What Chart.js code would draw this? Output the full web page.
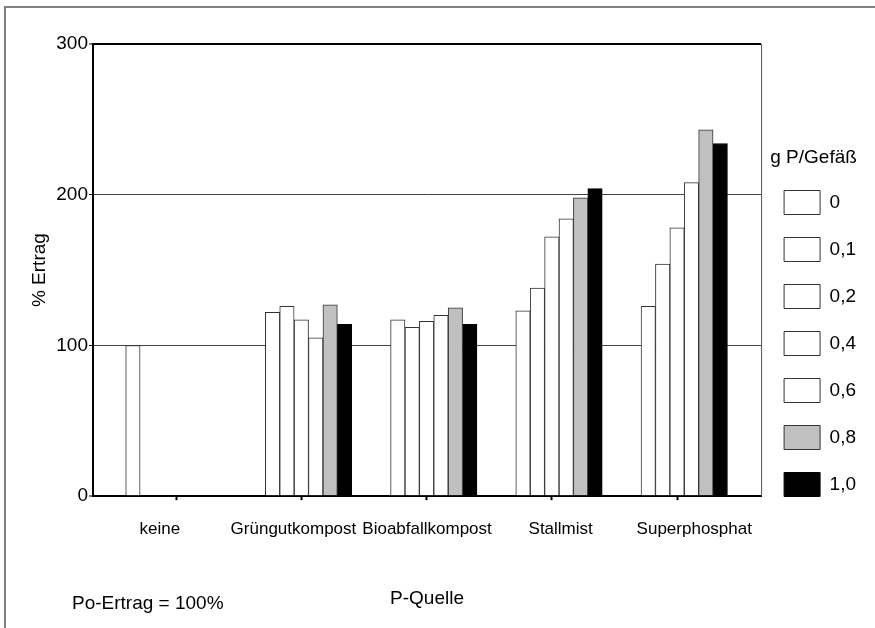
<!DOCTYPE html>
<html lang="de">
<head>
<meta charset="utf-8">
<title>% Ertrag nach P-Quelle</title>
<script src="https://cdn.jsdelivr.net/npm/chart.js@4.4.1/dist/chart.umd.min.js"></script>
<style>
  html, body { margin: 0; padding: 0; background: #fff; }
  #wrap { width: 875px; height: 628px; }
</style>
</head>
<body>
<div id="wrap"><canvas id="chartErtrag" width="875" height="628"></canvas></div>
<script>
// P-Quellen und Dosisstufen
const categories = ['keine', 'Grüngutkompost', 'Bioabfallkompost', 'Stallmist', 'Superphosphat'];
const doseLabels = ['0', '0,1', '0,2', '0,4', '0,6', '0,8', '1,0'];
const yTicks = [0, 100, 200, 300];

// % Ertrag je Dosis (g P/Gefäß)
const ertrag00 = [100, null, null, null, null];
const ertrag01 = [null, 122, 117, 123, 126];
const ertrag02 = [null, 126, 112, 138, 154];
const ertrag04 = [null, 117, 116, 172, 178];
const ertrag06 = [null, 105, 120, 184, 208];
const ertrag08 = [null, 127, 125, 198, 243];
const ertrag10 = [null, 114, 114, 204, 234];
const ertragSeries = [ertrag00, ertrag01, ertrag02, ertrag04, ertrag06, ertrag08, ertrag10];

const fillColors = ['#ffffff', '#ffffff', '#ffffff', '#ffffff', '#ffffff', '#c0c0c0', '#000000'];
const lineColors = ['#333333', '#333333', '#333333', '#333333', '#333333', '#333333', '#000000'];

const FONT = '"Liberation Sans", Arial, sans-serif';
Chart.defaults.font.family = FONT;
Chart.defaults.color = '#000';

// Rahmen, rechte Kante der Zeichenfläche und Fußnote
const rahmenPlugin = {
  id: 'rahmen',
  afterDraw(chart) {
    const { ctx, chartArea } = chart;
    ctx.save();
    ctx.strokeStyle = '#555';
    ctx.lineWidth = 1;
    ctx.beginPath();
    ctx.moveTo(chartArea.right + 0.5, chartArea.top);
    ctx.lineTo(chartArea.right + 0.5, chartArea.bottom);
    ctx.stroke();

    ctx.strokeStyle = '#808080';
    ctx.lineWidth = 2;
    ctx.beginPath();
    ctx.moveTo(5, chart.height);
    ctx.lineTo(5, 7);
    ctx.lineTo(chart.width, 7);
    ctx.stroke();

    ctx.fillStyle = '#000';
    ctx.font = '19px ' + FONT;
    ctx.textBaseline = 'middle';
    ctx.fillText('Po-Ertrag = 100%', 72, 604);
    ctx.restore();
  }
};

const isFrameTick = ctx => ctx.tick && (ctx.tick.value === yTicks[0] || ctx.tick.value === yTicks[yTicks.length - 1]);

new Chart(document.getElementById('chartErtrag'), {
  type: 'bar',
  data: {
    labels: categories,
    datasets: ertragSeries.map((values, i) => ({
      label: doseLabels[i],
      data: values.map((v, j) => ({ x: j, y: v })),
      backgroundColor: fillColors[i],
      borderColor: lineColors[i],
      borderWidth: 1,
      barThickness: 14.4
    }))
  },
  options: {
    responsive: false,
    animation: false,
    layout: { padding: { top: 44, left: 14, right: 9, bottom: 8 } },
    scales: {
      x: {
        type: 'linear',
        min: -0.6635,
        max: 4.671,
        offset: false,
        afterBuildTicks: axis => { axis.ticks = categories.map((c, i) => ({ value: i })); },
        ticks: { display: false },
        grid: { offset: false, drawOnChartArea: false, drawTicks: true, tickLength: 4, tickWidth: 2, tickColor: '#000' },
        border: { color: '#000', width: 2 }
      },
      xc: {
        type: 'category',
        position: 'bottom',
        labels: categories,
        offset: true,
        grid: { display: false, drawTicks: false },
        border: { display: false },
        ticks: { font: { size: 17 }, color: '#000', padding: 18.8, autoSkip: false, maxRotation: 0, minRotation: 0 },
        title: { display: true, text: 'P-Quelle', font: { size: 19 }, color: '#000', padding: { top: 29.4, bottom: 9.6 } }
      },
      y: {
        min: yTicks[0],
        max: yTicks[yTicks.length - 1],
        ticks: { stepSize: 100, font: { size: 19 }, color: '#000', padding: 1 },
        grid: {
          color: ctx => isFrameTick(ctx) ? '#000' : '#444',
          lineWidth: ctx => isFrameTick(ctx) ? 2 : 1,
          tickLength: 4,
          tickWidth: 1,
          tickColor: '#000'
        },
        border: { color: '#000', width: 2 },
        title: { display: true, text: '% Ertrag', font: { size: 19 }, color: '#000', padding: { top: 14.6, bottom: 3.9 } }
      }
    },
    plugins: {
      legend: {
        position: 'right',
        align: 'start',
        title: {
          display: true,
          text: 'g P/Gefäß',
          position: 'center',
          color: '#000',
          font: { size: 19, lineHeight: 1 },
          padding: { top: 104.5, bottom: 0 }
        },
        labels: { boxWidth: 36, boxHeight: 24, padding: 23, color: '#000', font: { size: 19 } }
      },
      tooltip: { enabled: false }
    }
  },
  plugins: [rahmenPlugin]
});
</script>
</body>
</html>
